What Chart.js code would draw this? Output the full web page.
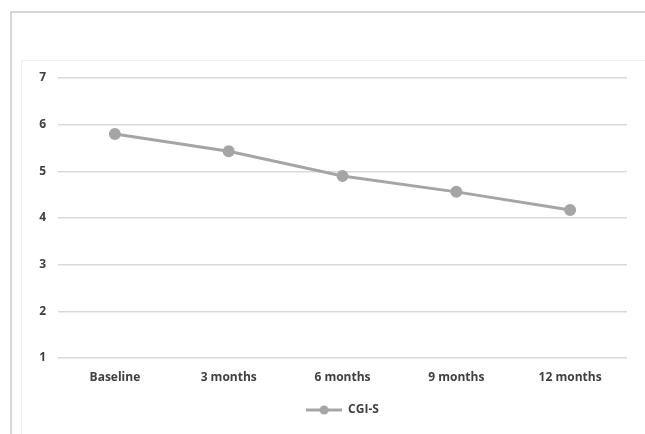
<!DOCTYPE html>
<html>
<head>
<meta charset="utf-8">
<script src="https://cdn.jsdelivr.net/npm/chart.js@4/dist/chart.umd.min.js"></script>
<style>
  html, body { margin: 0; padding: 0; background: #ffffff; }
  #wrap { position: relative; width: 645px; height: 434px; }
</style>
</head>
<body>
<div id="wrap"><canvas id="c" width="645" height="434"></canvas></div>
<script>
const categories = ["Baseline", "3 months", "6 months", "9 months", "12 months"];
const seriesName = "CGI-S";
const cgiS = [5.8, 5.43, 4.9, 4.56, 4.17];
const yTicks = [1, 2, 3, 4, 5, 6, 7];

const lineColor = "#a5a5a5";
const textColor = "#404040";
const fontFamily = "'Open Sans', 'Liberation Sans', sans-serif";

// legend swatch: line with a circle marker
function makeSwatch() {
  const c = document.createElement("canvas");
  c.width = 36; c.height = 12;
  const g = c.getContext("2d");
  g.strokeStyle = lineColor; g.lineWidth = 3;
  g.beginPath(); g.moveTo(0, 6); g.lineTo(36, 6); g.stroke();
  g.fillStyle = lineColor;
  g.beginPath(); g.arc(18, 6, 4.5, 0, Math.PI * 2); g.fill();
  return c;
}
const swatch = makeSwatch();

const framePlugin = {
  id: "frame",
  beforeDraw(chart) {
    const ctx = chart.ctx;
    ctx.save();
    ctx.fillStyle = "#ffffff";
    ctx.fillRect(0, 0, chart.width, chart.height);
    ctx.strokeStyle = "#c8c8c8";
    ctx.lineWidth = 1.5;
    ctx.beginPath();
    ctx.moveTo(11, chart.height);
    ctx.lineTo(11, 12);
    ctx.lineTo(chart.width, 12);
    ctx.stroke();
    ctx.strokeStyle = "#f0f0f0";
    ctx.lineWidth = 1;
    ctx.beginPath();
    ctx.moveTo(21.5, chart.height);
    ctx.lineTo(21.5, 60.5);
    ctx.lineTo(chart.width, 60.5);
    ctx.stroke();
    ctx.restore();
  }
};

// shift the legend so it is centred under the plot area
const legendShift = {
  id: "legendShift",
  afterLayout(chart) {
    const lg = chart.legend;
    if (!lg) return;
    const target = (chart.chartArea.left + chart.chartArea.right) / 2;
    const cur = (lg.left + lg.right) / 2;
    const d = target - cur;
    lg.left += d; lg.right += d;
  }
};

new Chart(document.getElementById("c"), {
  type: "line",
  data: {
    labels: categories,
    datasets: [{
      label: seriesName,
      data: cgiS,
      borderColor: lineColor,
      backgroundColor: lineColor,
      borderWidth: 3,
      pointRadius: 4.5,
      pointHoverRadius: 4.5,
      pointBackgroundColor: lineColor,
      pointBorderColor: lineColor,
      tension: 0,
      fill: false
    }]
  },
  options: {
    responsive: false,
    animation: false,
    devicePixelRatio: 1,
    layout: { padding: { left: 0, right: 18, top: 78, bottom: 8 } },
    plugins: {
      tooltip: { enabled: false },
      legend: {
        position: "bottom",
        labels: {
          color: textColor,
          font: { family: fontFamily, size: 12, weight: "bold" },
          padding: 10,
          usePointStyle: true,
          pointStyleWidth: 36,
          boxHeight: 12,
          generateLabels(chart) {
            return [{
              text: seriesName,
              pointStyle: swatch,
              fillStyle: lineColor,
              strokeStyle: lineColor,
              lineWidth: 0,
              hidden: false,
              datasetIndex: 0,
              fontColor: textColor
            }];
          }
        }
      }
    },
    scales: {
      x: {
        offset: true,
        grid: { display: false, drawTicks: false },
        border: { display: false },
        ticks: {
          color: textColor,
          font: { family: fontFamily, size: 12, weight: "bold" },
          padding: 12,
          maxRotation: 0
        },
        afterFit(scale) { scale.height = 36; }
      },
      y: {
        min: 1,
        max: 7,
        afterBuildTicks(scale) { scale.ticks = yTicks.map(v => ({ value: v })); },
        grid: { color: "#d9d9d9", lineWidth: 1.5, drawTicks: false },
        border: { display: false },
        ticks: {
          color: textColor,
          font: { family: fontFamily, size: 12, weight: "bold" },
          padding: 12
        },
        afterFit(scale) { scale.width = 58; }
      }
    }
  },
  plugins: [framePlugin, legendShift]
});
</script>
</body>
</html>
